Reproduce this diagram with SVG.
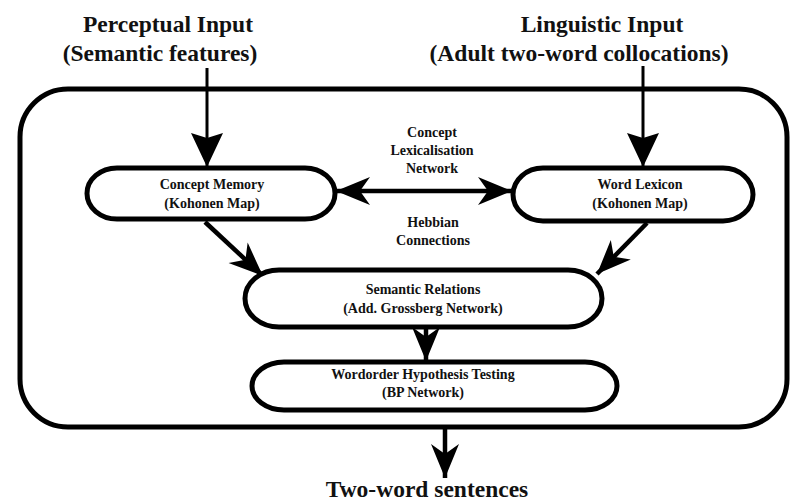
<svg xmlns="http://www.w3.org/2000/svg" width="792" height="503" viewBox="0 0 792 503">
  <style>
    .frame { fill: none; stroke: #000; stroke-width: 5; }
    .pill { fill: #fff; stroke: #000; stroke-width: 5; }
    .big { font-family: "Liberation Serif", "Times New Roman", serif; font-weight: bold; font-size: 23.5px; fill: #111; text-anchor: middle; }
    .small { font-family: "Liberation Serif", "Times New Roman", serif; font-weight: bold; font-size: 14px; fill: #111; text-anchor: middle; }
    .wire { fill: none; stroke: #000; stroke-width: 4.5; }
    .wire-thin { fill: none; stroke: #000; stroke-width: 3; }
  </style>
  <defs>
    <!-- barbed arrowhead, tip at the path end -->
    <marker id="barb" markerUnits="userSpaceOnUse" viewBox="-36 -15 38 30" refX="0" refY="0" markerWidth="38" markerHeight="30" orient="auto-start-reverse">
      <path d="M0,0 L-34,-14 L-24,0 L-34,14 Z" fill="#000"/>
    </marker>
    <!-- broad triangular head for the input lines -->
    <marker id="wedge" markerUnits="userSpaceOnUse" viewBox="-36 -17 38 34" refX="0" refY="0" markerWidth="38" markerHeight="34" orient="auto">
      <path d="M0,0 L-34,-16 L-29,0 L-34,16 Z" fill="#000"/>
    </marker>
  </defs>

  <rect fill="#fff" x="0" y="0" width="792" height="503"/>

  <!-- external labels -->
  <g id="perceptual-input">
    <text class="big" x="168" y="32">Perceptual Input</text>
    <text class="big" x="160" y="61">(Semantic features)</text>
  </g>
  <g id="linguistic-input">
    <text class="big" x="602" y="32">Linguistic Input</text>
    <text class="big" x="579" y="61">(Adult two-word collocations)</text>
  </g>
  <g id="output">
    <text class="big" x="427" y="497">Two-word sentences</text>
  </g>

  <!-- enclosing system box -->
  <g id="system">
    <rect class="frame" x="20" y="89" width="767" height="338" rx="48" ry="48"/>
  </g>

  <!-- connectors -->
  <g id="connectors">
    <path class="wire-thin" d="M207,68 V167" marker-end="url(#wedge)"/>
    <path class="wire-thin" d="M643,66 V167" marker-end="url(#wedge)"/>
    <path class="wire" d="M336,191 H512" marker-start="url(#barb)" marker-end="url(#barb)"/>
    <path class="wire" d="M205,222 L263,276" marker-end="url(#barb)"/>
    <path class="wire" d="M647,223 L597,274" marker-end="url(#barb)"/>
    <path class="wire" d="M426,328 V361" marker-end="url(#barb)"/>
    <path class="wire" d="M445,428 V478" marker-end="url(#barb)"/>
  </g>

  <!-- link labels -->
  <g id="lexicalisation-label">
    <text class="small" x="432" y="137">Concept</text>
    <text class="small" x="432" y="155">Lexicalisation</text>
    <text class="small" x="432" y="173">Network</text>
  </g>
  <g id="hebbian-label">
    <text class="small" x="433" y="227">Hebbian</text>
    <text class="small" x="433" y="245">Connections</text>
  </g>

  <!-- modules -->
  <g id="concept-memory">
    <rect class="pill" x="87" y="168" width="248" height="51" rx="30" ry="25.5"/>
    <text class="small" x="212" y="189">Concept Memory</text>
    <text class="small" x="212" y="208">(Kohonen Map)</text>
  </g>
  <g id="word-lexicon">
    <rect class="pill" x="513" y="168" width="240" height="53" rx="30" ry="26.5"/>
    <text class="small" x="640" y="189">Word Lexicon</text>
    <text class="small" x="640" y="208">(Kohonen Map)</text>
  </g>
  <g id="semantic-relations">
    <rect class="pill" x="245" y="270" width="357" height="57" rx="34" ry="28.5"/>
    <text class="small" x="423" y="294">Semantic Relations</text>
    <text class="small" x="423" y="313">(Add. Grossberg Network)</text>
  </g>
  <g id="wordorder">
    <rect class="pill" x="252" y="362" width="365" height="48" rx="32" ry="24"/>
    <text class="small" x="423" y="379">Wordorder Hypothesis Testing</text>
    <text class="small" x="423" y="397">(BP Network)</text>
  </g>
</svg>
